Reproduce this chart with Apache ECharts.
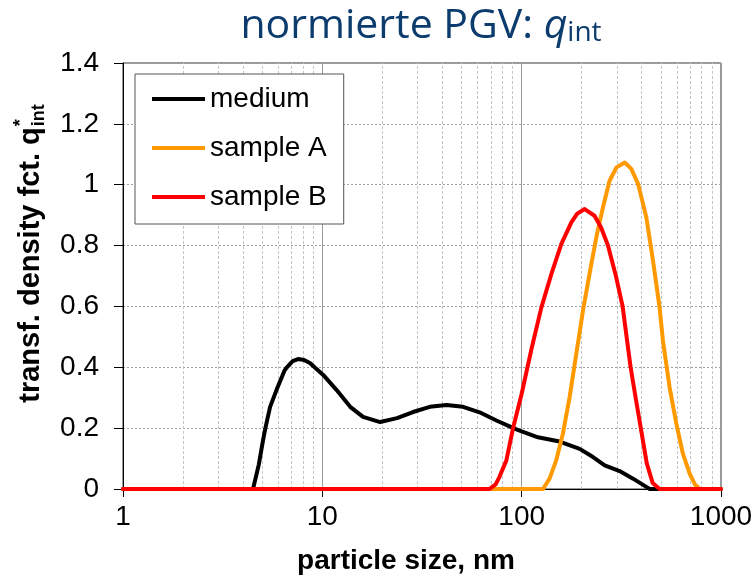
<!DOCTYPE html>
<html><head><meta charset="utf-8">
<script src="https://cdn.jsdelivr.net/npm/echarts@6/dist/echarts.min.js"></script>
<style>html,body{margin:0;padding:0;background:#fff}#c{width:756px;height:580px}</style>
</head><body><div id="c"></div>
<script>
// ---- data ----
const seriesNames = ['medium', 'sample A', 'sample B'];
const seriesColors = ['#000000', '#FF9900', '#FF0000'];

const mediumX = [1, 4.49, 4.8, 5.04, 5.18, 5.47, 5.93, 6.47, 6.64, 7.1, 7.55, 8.1, 8.66, 10.1, 11.8, 13.8, 16, 19.5, 23.7, 28.5, 34.6, 42, 50.8, 61.5, 74.7, 90.4, 100, 120.7, 155, 195.5, 228, 261, 310, 362, 422, 439, 1000];
const mediumY = [0, 0, 0.08, 0.16, 0.2, 0.27, 0.33, 0.39, 0.40, 0.42, 0.427, 0.424, 0.414, 0.375, 0.325, 0.27, 0.237, 0.22, 0.233, 0.253, 0.27, 0.276, 0.27, 0.252, 0.225, 0.201, 0.189, 0.17, 0.156, 0.132, 0.105, 0.078, 0.059, 0.034, 0.007, 0, 0];

const sampleAX = [1, 128, 138, 149, 161, 174, 188, 203, 219, 237, 256, 276, 299, 329, 355, 384, 422, 456, 492, 511, 552, 597, 644, 697, 740, 782, 1000];
const sampleAY = [0, 0, 0.034, 0.094, 0.182, 0.302, 0.445, 0.586, 0.707, 0.828, 0.927, 1.013, 1.057, 1.073, 1.052, 1.002, 0.893, 0.75, 0.596, 0.489, 0.335, 0.215, 0.116, 0.05, 0.015, 0, 0];

const sampleBX = [1, 69, 74, 77.4, 83.8, 90.4, 100, 112, 125.6, 141, 158, 177.5, 190, 207, 232, 250, 271, 297, 321, 336, 352, 373, 396, 424, 454, 492, 1000];
const sampleBY = [0, 0, 0.015, 0.04, 0.094, 0.198, 0.313, 0.46, 0.597, 0.707, 0.805, 0.876, 0.905, 0.92, 0.898, 0.86, 0.8, 0.7, 0.6, 0.5, 0.4, 0.3, 0.2, 0.085, 0.02, 0, 0];

const xMin = 1, xMax = 1000;
const yMin = 0, yMax = 1.4, yStep = 0.2;
const minorGridX = [2,3,4,5,6,7,8,9,20,30,40,50,60,70,80,90,200,300,400,500,600,700,800,900];

const titleMain = 'normierte PGV: ';
const titleVar = 'q';
const titleSub = 'int';
const xName = 'particle size, nm';
const yNameMain = 'transf. density fct. q';
const yNameSup = '*';
const yNameSub = 'int';

// ---- build ----
const pairs = (xs, ys) => xs.map((x, i) => [x, ys[i]]);
const seriesData = [pairs(mediumX, mediumY), pairs(sampleAX, sampleAY), pairs(sampleBX, sampleBY)];

const FONT = '"Liberation Sans", Arial, sans-serif';
const TITLE_COLOR = '#0c3c6e';
const ctx = document.createElement('canvas').getContext('2d');
const yFontSize = 29, ySubSize = 18;
ctx.font = 'bold ' + yFontSize + 'px "Liberation Sans"';
const wMain = ctx.measureText(yNameMain).width;
ctx.font = 'bold ' + ySubSize + 'px "Liberation Sans"';
const wSub = ctx.measureText(yNameSub).width;
const total = wMain + wSub;

const chart = echarts.init(document.getElementById('c'), null, {renderer: 'canvas'});

const lineSeries = seriesNames.map((n, i) => ({
  name: n,
  type: 'line',
  data: seriesData[i],
  showSymbol: false,
  symbol: 'none',
  z: 3,
  itemStyle: {color: seriesColors[i]},
  lineStyle: {color: seriesColors[i], width: 4, join: 'round', cap: 'round'},
  animation: false
}));

const gridSeries = {
  name: '_grid',
  type: 'line',
  data: [],
  z: 1,
  silent: true,
  animation: false,
  markLine: {
    z: 1,
    silent: true,
    animation: false,
    symbol: ['none', 'none'],
    label: {show: false},
    lineStyle: {color: '#c4c4c4', type: [3, 2], width: 1},
    data: minorGridX.map(v => ({xAxis: v}))
  }
};

chart.setOption({
  animation: false,
  backgroundColor: '#fff',
  grid: {left: 123, right: 35, top: 63, bottom: 91, show: true, borderColor: '#333', borderWidth: 1, backgroundColor: 'transparent'},
  legend: {
    data: seriesNames,
    left: 135, top: 74,
    orient: 'vertical',
    backgroundColor: '#fff',
    borderColor: '#555', borderWidth: 1,
    padding: [10, 17, 12, 17],
    itemGap: 19,
    itemWidth: 53, itemHeight: 4,
    icon: 'rect',
    textStyle: {fontFamily: FONT, fontSize: 28, color: '#000', lineHeight: 30},
    selectedMode: false
  },
  xAxis: {
    type: 'log', logBase: 10, min: xMin, max: xMax,
    axisLine: {show: true, lineStyle: {color: '#000', width: 1}},
    axisTick: {show: true, inside: false, length: 8, lineStyle: {color: '#000'}},
    axisLabel: {fontFamily: FONT, fontSize: 28, color: '#000', margin: 14, formatter: v => String(Math.round(v))},
    splitLine: {show: true, lineStyle: {color: '#9a9a9a', width: 1, type: 'solid'}},
    name: xName, nameLocation: 'middle', nameGap: 58,
    nameTextStyle: {fontFamily: FONT, fontSize: 28, fontWeight: 'bold', color: '#000', padding: [0, 32, 0, 0]}
  },
  yAxis: {
    type: 'value', min: yMin, max: yMax, interval: yStep,
    axisLine: {show: true, lineStyle: {color: '#000', width: 1}},
    axisTick: {show: true, inside: false, length: 9, lineStyle: {color: '#000'}},
    axisLabel: {fontFamily: FONT, fontSize: 28, color: '#000', margin: 24},
    splitLine: {show: true, lineStyle: {color: '#a0a0a0', width: 1, type: [2, 2]}}
  },
  graphic: [
    {
      type: 'text', x: 421, y: 24, z: 10,
      style: {
        text: '{a|' + titleMain + '}{q|' + titleVar + '}{s|' + titleSub + '}',
        align: 'center', verticalAlign: 'middle',
        fill: TITLE_COLOR,
        rich: {
          a: {fontFamily: '"Open Sans"', fontSize: 41, fill: TITLE_COLOR, lineHeight: 46, verticalAlign: 'bottom'},
          q: {fontFamily: '"Open Sans"', fontSize: 41, fontStyle: 'italic', fill: TITLE_COLOR, lineHeight: 46, verticalAlign: 'bottom'},
          s: {fontFamily: '"Open Sans"', fontSize: 28, fill: TITLE_COLOR, lineHeight: 32, verticalAlign: 'bottom'}
        }
      }
    },
    {
      type: 'group', x: 31, y: 254, rotation: Math.PI / 2,
      children: [
        {type: 'text', x: -total / 2, y: 0, style: {text: yNameMain, fontFamily: FONT, fontSize: yFontSize, fontWeight: 'bold', fill: '#000', align: 'left', verticalAlign: 'middle'}},
        {type: 'text', x: -total / 2 + wMain + 1, y: -10, style: {text: yNameSup, fontFamily: FONT, fontSize: ySubSize, fontWeight: 'bold', fill: '#000', align: 'left', verticalAlign: 'middle'}},
        {type: 'text', x: -total / 2 + wMain + 1, y: 8, style: {text: yNameSub, fontFamily: FONT, fontSize: ySubSize, fontWeight: 'bold', fill: '#000', align: 'left', verticalAlign: 'middle'}}
      ]
    }
  ],
  series: [gridSeries].concat(lineSeries)
});
</script>
</body></html>
